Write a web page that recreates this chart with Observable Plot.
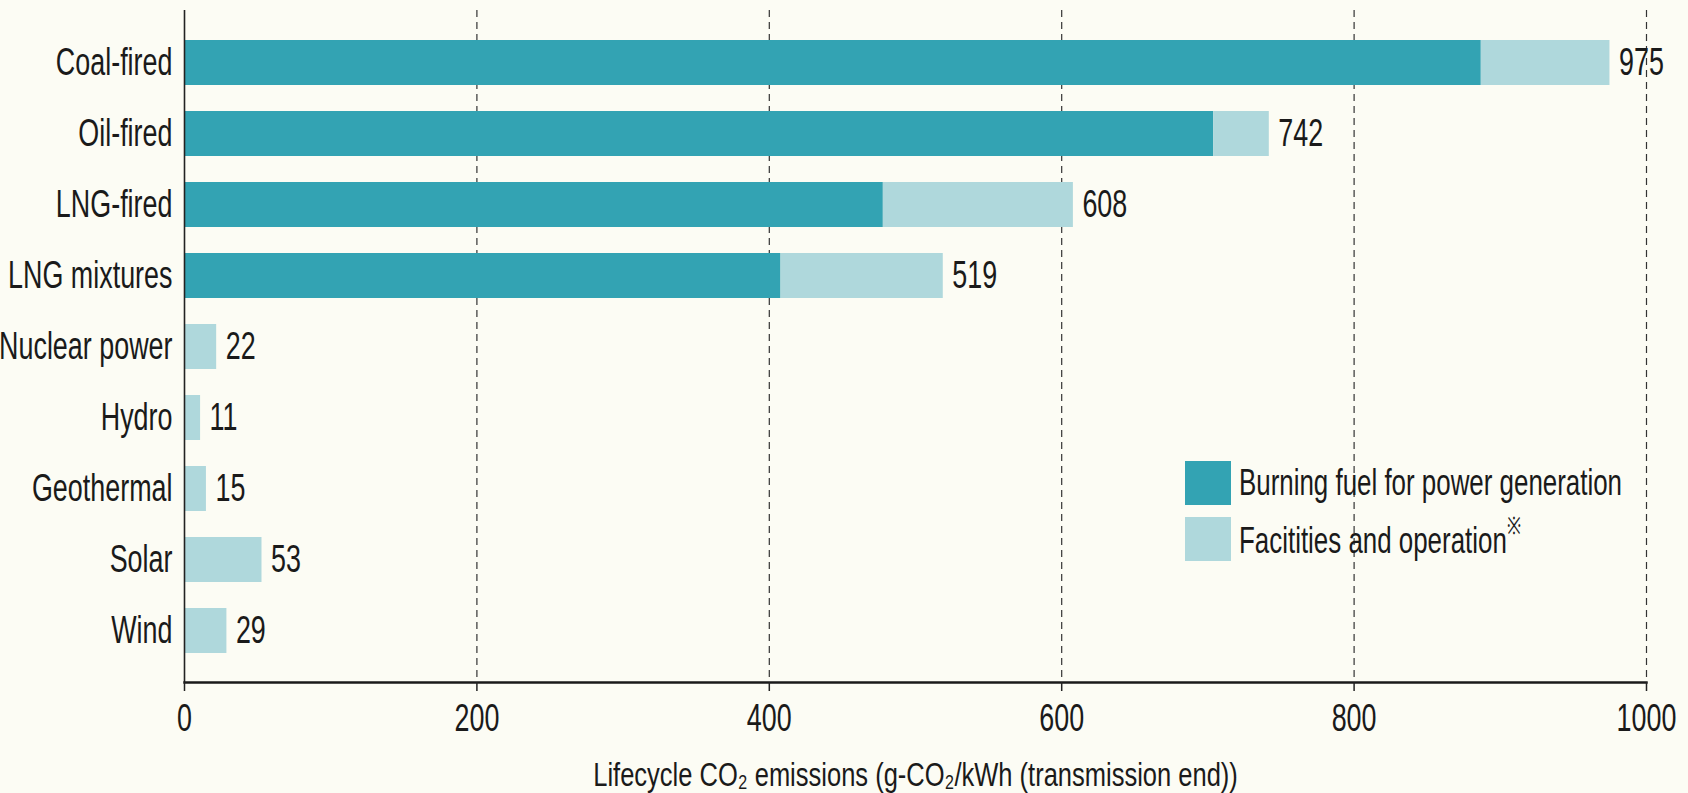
<!DOCTYPE html>
<html>
<head>
<meta charset="utf-8">
<script src="https://cdn.jsdelivr.net/npm/d3@7"></script>
<script src="https://cdn.jsdelivr.net/npm/@observablehq/plot@0.6"></script>
<style>
  html, body { margin: 0; padding: 0; background: #fcfcf4; }
  #wrap { position: relative; width: 1688px; height: 793px; overflow: hidden; }
  .lg { position: absolute; left: 1185px; top: 460px; font-family: "Liberation Sans", Arial, sans-serif; font-size: 37px; color: #1a1a1a; }
  .lg .row { display: flex; align-items: center; height: 45px; margin-bottom: 11px; }
  .lg .sw { width: 46px; height: 44px; margin-right: 8px; flex: none; }
  .lg .txt { display: inline-block; white-space: nowrap; transform: scaleX(0.70); transform-origin: left center; }
  .lg sup { font-size: 24px; position: relative; top: -6px; }
</style>
</head>
<body>
<div id="wrap"></div>
<script>
const categories = ["Coal-fired", "Oil-fired", "LNG-fired", "LNG mixtures", "Nuclear power", "Hydro", "Geothermal", "Solar", "Wind"];
const burningFuel = [887, 704, 478, 408, 0, 0, 0, 0, 0];
const facilities = [88, 38, 130, 111, 22, 11, 15, 53, 29];
const totals = [975, 742, 608, 519, 22, 11, 15, 53, 29];
const seriesNames = ["Burning fuel for power generation", "Facitities and operation"];
const seriesColors = ["#33a3b3", "#afd8dc"];
const xTicks = [0, 200, 400, 600, 800, 1000];
const xLabel = "Lifecycle CO₂ emissions (g-CO₂/kWh (transmission end))";

const rows = [];
categories.forEach((c, i) => {
  rows.push({category: c, series: seriesNames[0], value: burningFuel[i]});
  rows.push({category: c, series: seriesNames[1], value: facilities[i]});
});
const totalRows = categories.map((c, i) => ({category: c, total: totals[i]}));

const font = '"Liberation Sans", Arial, sans-serif';

const plot = Plot.plot({
  width: 1688,
  height: 793,
  marginLeft: 184,
  marginRight: 42,
  marginTop: 10,
  marginBottom: 111,
  style: {background: "transparent", fontFamily: font, fontSize: "39px", color: "#1a1a1a", overflow: "visible"},
  x: {domain: [0, 1000], ticks: xTicks, tickFormat: d => String(d)},
  y: {domain: categories, padding: 0.37},
  color: {domain: seriesNames, range: seriesColors},
  marks: [
    Plot.gridX(xTicks.slice(1), {stroke: "#333", strokeOpacity: 1, strokeWidth: 1.2, strokeDasharray: "7,5"}),
    Plot.barX(rows, {x: "value", y: "category", fill: "series"}),
    Plot.text(totalRows, {x: "total", y: "category", text: d => String(d.total), textAnchor: "start", dx: 9, fontSize: 39, fill: "#1a1a1a"}),
    Plot.ruleX([0], {stroke: "#222", strokeWidth: 1.6}),
    Plot.frame({anchor: "bottom", stroke: "#1a1a1a", strokeWidth: 2.4}),
    Plot.axisX({ticks: xTicks, tickFormat: d => String(d), tickSize: 9, tickPadding: 12, strokeWidth: 1.5, stroke: "#222", fontSize: 39, label: null}),
    Plot.axisY({tickSize: 0, tickPadding: 12, fontSize: 39, label: null}),
    Plot.text([xLabel], {frameAnchor: "bottom", dy: 93, lineAnchor: "middle", fontSize: 34, fill: "#1a1a1a"})
  ]
});
document.getElementById("wrap").appendChild(plot);

// condensed look: squeeze every text horizontally about its anchor
d3.select(plot).selectAll("text").each(function() {
  const el = d3.select(this);
  const s = this.textContent.startsWith("Lifecycle") ? 0.75 : 0.69;
  const t = el.attr("transform");
  if (t) {
    el.attr("transform", t + ` scale(${s},1)`);
  } else {
    const x = +el.attr("x") || 0, y = +el.attr("y") || 0;
    el.attr("transform", `translate(${x},${y}) scale(${s},1) translate(${-x},${-y})`);
  }
});

const lg = document.createElement("div");
lg.className = "lg";
seriesNames.forEach((s, i) => {
  const r = document.createElement("div");
  r.className = "row";
  const sw = document.createElement("div");
  sw.className = "sw";
  sw.style.background = seriesColors[i];
  const t = document.createElement("span");
  t.className = "txt";
  t.innerHTML = s + (i === 1 ? "<sup>※</sup>" : "");
  r.appendChild(sw); r.appendChild(t);
  lg.appendChild(r);
});
document.getElementById("wrap").appendChild(lg);
</script>
</body>
</html>
